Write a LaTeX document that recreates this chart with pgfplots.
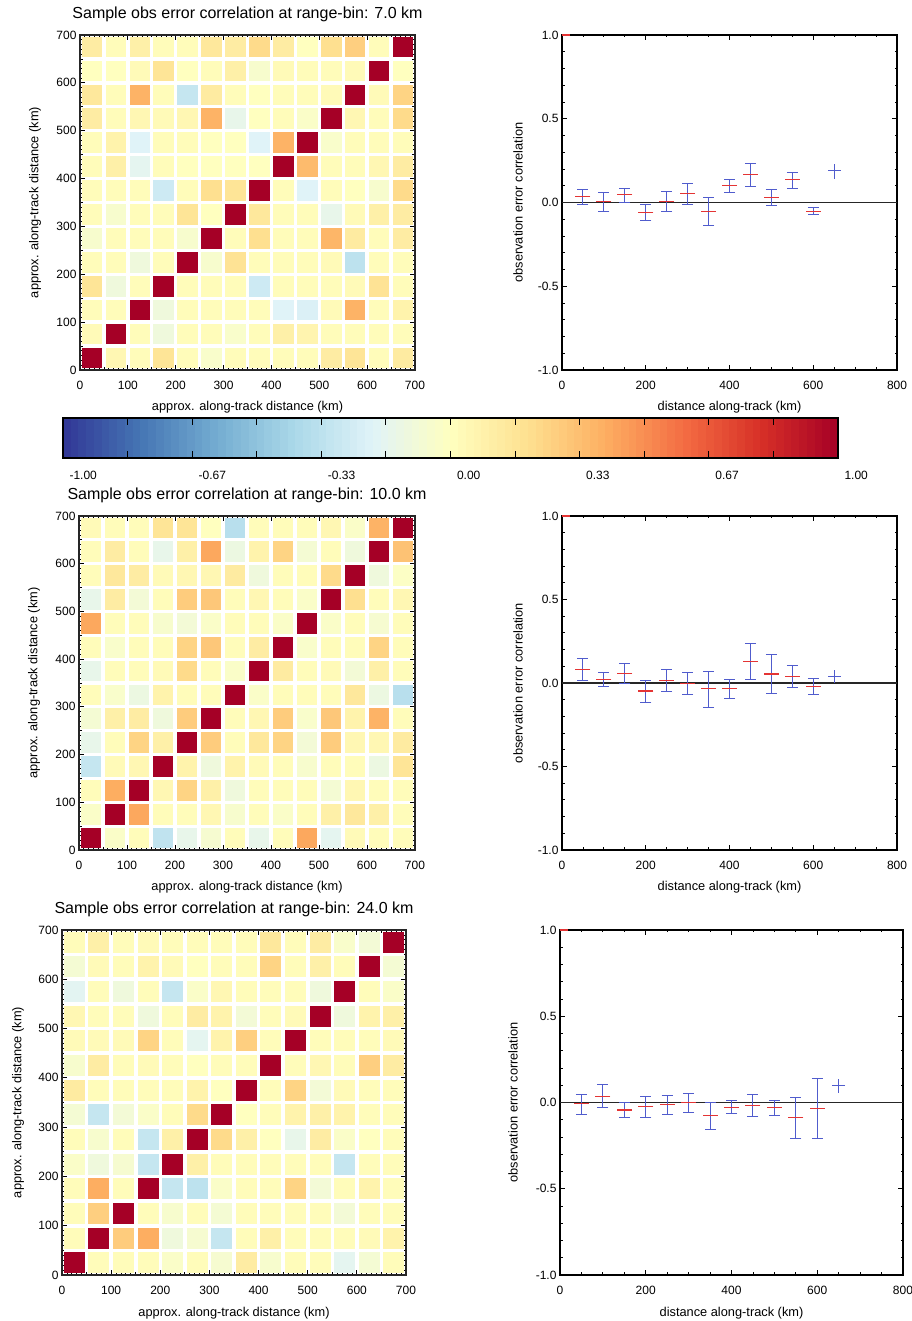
\documentclass[border=0pt]{standalone}
\usepackage{pgfplots}
\pgfplotsset{compat=1.18}
\usepackage{fontspec}
\setmainfont{Liberation Sans}
\definecolor{cblue}{RGB}{80,92,205}
\definecolor{cred}{RGB}{228,52,52}
\pgfplotsset{
  colormap={rdylbu}{rgb255=(49,54,149) rgb255=(69,117,180) rgb255=(116,173,209) rgb255=(171,217,233) rgb255=(224,243,248) rgb255=(255,255,191) rgb255=(254,224,144) rgb255=(253,174,97) rgb255=(244,109,67) rgb255=(215,48,39) rgb255=(165,0,38)},
  every axis/.append style={
    /pgf/number format/assume math mode=true,
    tick label style={font=\fontsize{12}{12}\selectfont},
    label style={font=\fontsize{12.8}{13}\selectfont},
    title style={font=\fontsize{16}{16}\selectfont},
  },
  base/.style={scale only axis, anchor=south west, tick align=inside,
    major tick length=5pt, minor tick length=2.5pt,
    every tick/.style={black, line width=0.8pt},
    xticklabel style={yshift=-8pt},
    xlabel style={at={(axis description cs:0.5,0)}, anchor=base, yshift=-41pt},
    title style={at={(axis description cs:0.5,1)}, anchor=base, yshift=10.5pt},
  },
  mat/.style={base, xmin=0, xmax=700, ymin=0, ymax=700,
    xtick={0,100,...,700}, ytick={0,100,...,700}, minor tick num=9,
    axis line style={black!85, line width=1.6pt},
    point meta min=-1, point meta max=1, colormap name=rdylbu,
    xlabel={approx. along-track distance (km)},
    ylabel={approx. along-track distance (km)}},
  cor/.style={base, xmin=0, xmax=800, ymin=-1, ymax=1,
    xtick={0,200,...,800}, minor x tick num=3,
    ytick={-1,-0.5,0,0.5,1}, minor y tick num=4,
    yticklabel style={/pgf/number format/.cd, fixed, fixed zerofill, precision=1},
    axis line style={black, line width=1.2pt},
    xlabel={distance along-track (km)},
    ylabel={observation error correlation}},
  sq/.style={scatter, only marks, mark=square*, point meta=explicit,
    scatter/use mapped color={draw=mapped color, fill=mapped color},
    mark options={line width=0pt}},
  eb/.style={only marks, mark=-, mark options={cred, line width=1.2pt, mark size=7.5pt},
    error bars/.cd, y dir=both, y explicit,
    error bar style={cblue, line width=1pt},
    error mark options={cblue, line width=1pt, mark size=5.5pt, rotate=90}},
  ebl/.style={only marks, mark=-, mark options={cblue, line width=1.2pt, mark size=6.5pt},
    error bars/.cd, y dir=both, y explicit, error mark=none,
    error bar style={cblue, line width=1pt}},
}
\begin{document}
\begin{tikzpicture}
\useasboundingbox (0pt,0pt) rectangle (911pt,1321pt);

% ---------------- Row 1 ----------------
\begin{axis}[mat, at={(80pt,951pt)}, width=335pt, height=335pt,
  title={Sample obs error correlation at range-bin: 7.0 km},
  ylabel style={at={(axis description cs:-0.134,0.5)}, anchor=center}]
\addplot[sq, mark size=9.8pt] table[row sep=\\, meta=c]{
x y c\\
25 25 1\\ 75 25 0.05\\ 125 25 0.02\\ 175 25 0.17\\ 225 25 0.02\\ 275 25 -0.04\\ 325 25 0.02\\ 375 25 0.02\\ 425 25 0.02\\ 475 25 0.02\\ 525 25 0.12\\ 575 25 0.17\\ 625 25 0.02\\ 675 25 0.13\\
25 75 0.03\\ 75 75 1\\ 125 75 0.02\\ 175 75 -0.1\\ 225 75 0.02\\ 275 75 0.02\\ 325 75 -0.04\\ 375 75 0.02\\ 425 75 0.1\\ 475 75 0.07\\ 525 75 0.02\\ 575 75 0.02\\ 625 75 0.02\\ 675 75 0.02\\
25 125 0.02\\ 75 125 0.02\\ 125 125 1\\ 175 125 -0.1\\ 225 125 0.02\\ 275 125 0.02\\ 325 125 0.02\\ 375 125 0.02\\ 425 125 -0.2\\ 475 125 -0.22\\ 525 125 0.03\\ 575 125 0.38\\ 625 125 0.02\\ 675 125 0.08\\
25 175 0.17\\ 75 175 -0.1\\ 125 175 0.02\\ 175 175 1\\ 225 175 0.02\\ 275 175 0.02\\ 325 175 0.02\\ 375 175 -0.27\\ 425 175 0.02\\ 475 175 0.02\\ 525 175 0.02\\ 575 175 0.03\\ 625 175 0.18\\ 675 175 0.02\\
25 225 0.02\\ 75 225 0.02\\ 125 225 -0.1\\ 175 225 0.02\\ 225 225 1\\ 275 225 -0.05\\ 325 225 0.18\\ 375 225 0.02\\ 425 225 0.02\\ 475 225 0.02\\ 525 225 0.03\\ 575 225 -0.33\\ 625 225 0.02\\ 675 225 0.02\\
25 275 -0.05\\ 75 275 0.02\\ 125 275 0.02\\ 175 275 0.02\\ 225 275 -0.05\\ 275 275 1\\ 325 275 0.02\\ 375 275 0.2\\ 425 275 0.02\\ 475 275 0.02\\ 525 275 0.37\\ 575 275 0.13\\ 625 275 0.02\\ 675 275 0.12\\
25 325 0.02\\ 75 325 -0.05\\ 125 325 0.02\\ 175 325 0.02\\ 225 325 0.17\\ 275 325 0\\ 325 325 1\\ 375 325 0.15\\ 425 325 0.02\\ 475 325 0.02\\ 525 325 -0.15\\ 575 325 0.03\\ 625 325 0.1\\ 675 325 0.12\\
25 375 0.02\\ 75 375 0.02\\ 125 375 0.02\\ 175 375 -0.27\\ 225 375 0.02\\ 275 375 0.2\\ 325 375 0.17\\ 375 375 1\\ 425 375 0.02\\ 475 375 -0.2\\ 525 375 0.02\\ 575 375 0\\ 625 375 -0.05\\ 675 375 0.22\\
25 425 0.02\\ 75 425 0.1\\ 125 425 -0.17\\ 175 425 0.02\\ 225 425 0\\ 275 425 0\\ 325 425 0\\ 375 425 0\\ 425 425 1\\ 475 425 0.35\\ 525 425 0.02\\ 575 425 0.02\\ 625 425 0.05\\ 675 425 0.12\\
25 475 0.02\\ 75 475 0.08\\ 125 475 -0.2\\ 175 475 0.02\\ 225 475 0.02\\ 275 475 0\\ 325 475 0\\ 375 475 -0.2\\ 425 475 0.38\\ 475 475 1\\ 525 475 -0.04\\ 575 475 0.02\\ 625 475 0.02\\ 675 475 0.02\\
25 525 0.12\\ 75 525 0.02\\ 125 525 0.05\\ 175 525 0.03\\ 225 525 0.05\\ 275 525 0.38\\ 325 525 -0.15\\ 375 525 0\\ 425 525 0.02\\ 475 525 -0.03\\ 525 525 1\\ 575 525 0.05\\ 625 525 0.02\\ 675 525 0.22\\
25 575 0.15\\ 75 575 0.02\\ 125 575 0.38\\ 175 575 0.02\\ 225 575 -0.3\\ 275 575 0.13\\ 325 575 0.02\\ 375 575 0\\ 425 575 0.02\\ 475 575 0.02\\ 525 575 0.03\\ 575 575 1\\ 625 575 0.03\\ 675 575 0.25\\
25 625 0\\ 75 625 0\\ 125 625 0.03\\ 175 625 0.17\\ 225 625 0\\ 275 625 0.02\\ 325 625 0.1\\ 375 625 -0.05\\ 425 625 0.03\\ 475 625 0.02\\ 525 625 0.02\\ 575 625 0.03\\ 625 625 1\\ 675 625 0\\
25 675 0.12\\ 75 675 0.02\\ 125 675 0.1\\ 175 675 0.02\\ 225 675 0.02\\ 275 675 0.15\\ 325 675 0.12\\ 375 675 0.22\\ 425 675 0.12\\ 475 675 0\\ 525 675 0.2\\ 575 675 0.27\\ 625 675 0.02\\ 675 675 1\\
};
\end{axis}

% ---------------- colour bar ----------------
\begin{axis}[scale only axis, anchor=south west, at={(63pt,863pt)},
  width=775pt, height=40pt, xmin=-1, xmax=1, ymin=0, ymax=1,
  axis on top, colormap name=rdylbu, point meta min=-1, point meta max=1,
  xtick={-1,-0.83333,-0.66667,-0.5,-0.33333,-0.16667,0,0.16667,0.33333,0.5,0.66667,0.83333,1},
  xticklabels={-1.00,,-0.67,,-0.33,,0.00,,0.33,,0.67,,1.00},
  xticklabel style={anchor=north west, xshift=3pt, yshift=-10pt},
  ytick=\empty, tick align=inside, major tick length=7pt,
  xtick pos=both, xticklabel pos=lower,
  every tick/.style={black, line width=1pt},
  axis line style={black, line width=1.5pt}]
\addplot[matrix plot*, mesh/cols=100, point meta=x] coordinates {
(-0.99,0.25) (-0.97,0.25) (-0.95,0.25) (-0.93,0.25) (-0.91,0.25) (-0.89,0.25) (-0.87,0.25) (-0.85,0.25) (-0.83,0.25) (-0.81,0.25)
(-0.79,0.25) (-0.77,0.25) (-0.75,0.25) (-0.73,0.25) (-0.71,0.25) (-0.69,0.25) (-0.67,0.25) (-0.65,0.25) (-0.63,0.25) (-0.61,0.25)
(-0.59,0.25) (-0.57,0.25) (-0.55,0.25) (-0.53,0.25) (-0.51,0.25) (-0.49,0.25) (-0.47,0.25) (-0.45,0.25) (-0.43,0.25) (-0.41,0.25)
(-0.39,0.25) (-0.37,0.25) (-0.35,0.25) (-0.33,0.25) (-0.31,0.25) (-0.29,0.25) (-0.27,0.25) (-0.25,0.25) (-0.23,0.25) (-0.21,0.25)
(-0.19,0.25) (-0.17,0.25) (-0.15,0.25) (-0.13,0.25) (-0.11,0.25) (-0.09,0.25) (-0.07,0.25) (-0.05,0.25) (-0.03,0.25) (-0.01,0.25)
(0.01,0.25) (0.03,0.25) (0.05,0.25) (0.07,0.25) (0.09,0.25) (0.11,0.25) (0.13,0.25) (0.15,0.25) (0.17,0.25) (0.19,0.25)
(0.21,0.25) (0.23,0.25) (0.25,0.25) (0.27,0.25) (0.29,0.25) (0.31,0.25) (0.33,0.25) (0.35,0.25) (0.37,0.25) (0.39,0.25)
(0.41,0.25) (0.43,0.25) (0.45,0.25) (0.47,0.25) (0.49,0.25) (0.51,0.25) (0.53,0.25) (0.55,0.25) (0.57,0.25) (0.59,0.25)
(0.61,0.25) (0.63,0.25) (0.65,0.25) (0.67,0.25) (0.69,0.25) (0.71,0.25) (0.73,0.25) (0.75,0.25) (0.77,0.25) (0.79,0.25)
(0.81,0.25) (0.83,0.25) (0.85,0.25) (0.87,0.25) (0.89,0.25) (0.91,0.25) (0.93,0.25) (0.95,0.25) (0.97,0.25) (0.99,0.25)

(-0.99,0.75) (-0.97,0.75) (-0.95,0.75) (-0.93,0.75) (-0.91,0.75) (-0.89,0.75) (-0.87,0.75) (-0.85,0.75) (-0.83,0.75) (-0.81,0.75)
(-0.79,0.75) (-0.77,0.75) (-0.75,0.75) (-0.73,0.75) (-0.71,0.75) (-0.69,0.75) (-0.67,0.75) (-0.65,0.75) (-0.63,0.75) (-0.61,0.75)
(-0.59,0.75) (-0.57,0.75) (-0.55,0.75) (-0.53,0.75) (-0.51,0.75) (-0.49,0.75) (-0.47,0.75) (-0.45,0.75) (-0.43,0.75) (-0.41,0.75)
(-0.39,0.75) (-0.37,0.75) (-0.35,0.75) (-0.33,0.75) (-0.31,0.75) (-0.29,0.75) (-0.27,0.75) (-0.25,0.75) (-0.23,0.75) (-0.21,0.75)
(-0.19,0.75) (-0.17,0.75) (-0.15,0.75) (-0.13,0.75) (-0.11,0.75) (-0.09,0.75) (-0.07,0.75) (-0.05,0.75) (-0.03,0.75) (-0.01,0.75)
(0.01,0.75) (0.03,0.75) (0.05,0.75) (0.07,0.75) (0.09,0.75) (0.11,0.75) (0.13,0.75) (0.15,0.75) (0.17,0.75) (0.19,0.75)
(0.21,0.75) (0.23,0.75) (0.25,0.75) (0.27,0.75) (0.29,0.75) (0.31,0.75) (0.33,0.75) (0.35,0.75) (0.37,0.75) (0.39,0.75)
(0.41,0.75) (0.43,0.75) (0.45,0.75) (0.47,0.75) (0.49,0.75) (0.51,0.75) (0.53,0.75) (0.55,0.75) (0.57,0.75) (0.59,0.75)
(0.61,0.75) (0.63,0.75) (0.65,0.75) (0.67,0.75) (0.69,0.75) (0.71,0.75) (0.73,0.75) (0.75,0.75) (0.77,0.75) (0.79,0.75)
(0.81,0.75) (0.83,0.75) (0.85,0.75) (0.87,0.75) (0.89,0.75) (0.91,0.75) (0.93,0.75) (0.95,0.75) (0.97,0.75) (0.99,0.75)
};
\end{axis}

\begin{axis}[cor, at={(562pt,951pt)}, width=335pt, height=335pt,
  ylabel style={at={(axis description cs:-0.131,0.5)}, anchor=center}]
\addplot[black!85, line width=1.2pt] coordinates {(0,0) (800,0)};
\addplot[cred, line width=1.2pt] coordinates {(0,1) (18,1)};
\addplot[eb] table[x=x, y=y, y error plus=ep, y error minus=em]{
x y ep em
50 0.036 0.040 0.046
100 0.004 0.058 0.060
150 0.046 0.038 0.046
200 -0.060 0.050 0.047
250 0.004 0.062 0.056
300 0.054 0.059 0.068
350 -0.054 0.082 0.083
400 0.100 0.035 0.040
450 0.165 0.068 0.069
500 0.030 0.046 0.050
550 0.135 0.044 0.049
600 -0.054 0.024 0.016
};
\addplot[ebl] table[x=x, y=y, y error plus=ep, y error minus=em]{
x y ep em
650 0.190 0.040 0.050
};
\end{axis}

% ---------------- Row 2 ----------------
\begin{axis}[mat, at={(79pt,471pt)}, width=336pt, height=334pt,
  title={Sample obs error correlation at range-bin: 10.0 km},
  ylabel style={at={(axis description cs:-0.134,0.5)}, anchor=center}]
\addplot[sq, mark size=9.8pt] table[row sep=\\, meta=c]{
x y c\\
25 25 1\\ 75 25 -0.03\\ 125 25 0.02\\ 175 25 -0.32\\ 225 25 -0.15\\ 275 25 -0.06\\ 325 25 0.02\\ 375 25 -0.15\\ 425 25 0.02\\ 475 25 0.42\\ 525 25 -0.17\\ 575 25 0.03\\ 625 25 0.02\\ 675 25 0.02\\
25 75 -0.03\\ 75 75 1\\ 125 75 0.42\\ 175 75 0.02\\ 225 75 0.02\\ 275 75 0.05\\ 325 75 -0.05\\ 375 75 0.02\\ 425 75 -0.03\\ 475 75 0.02\\ 525 75 0.1\\ 575 75 0.15\\ 625 75 0.1\\ 675 75 0.02\\
25 125 0.02\\ 75 125 0.4\\ 125 125 1\\ 175 125 0.05\\ 225 125 0.25\\ 275 125 0.1\\ 325 125 -0.1\\ 375 125 0.02\\ 425 125 0.02\\ 475 125 0.02\\ 525 125 -0.07\\ 575 125 0.05\\ 625 125 0.02\\ 675 125 0.02\\
25 175 -0.3\\ 75 175 0.03\\ 125 175 0.05\\ 175 175 1\\ 225 175 0.08\\ 275 175 -0.1\\ 325 175 0.08\\ 375 175 0.03\\ 425 175 0.02\\ 475 175 -0.05\\ 525 175 0.02\\ 575 175 0.02\\ 625 175 -0.12\\ 675 175 0.17\\
25 225 -0.15\\ 75 225 0.02\\ 125 225 0.25\\ 175 225 0.1\\ 225 225 1\\ 275 225 0.28\\ 325 225 0.02\\ 375 225 0.15\\ 425 225 0.25\\ 475 225 -0.08\\ 525 225 0.28\\ 575 225 0.05\\ 625 225 0.05\\ 675 225 0.13\\
25 275 -0.07\\ 75 275 0.1\\ 125 275 0.12\\ 175 275 -0.1\\ 225 275 0.28\\ 275 275 1\\ 325 275 0.02\\ 375 275 0.05\\ 425 275 0.28\\ 475 275 -0.04\\ 525 275 0.3\\ 575 275 0.08\\ 625 275 0.38\\ 675 275 0.02\\
25 325 0.02\\ 75 325 -0.04\\ 125 325 -0.12\\ 175 325 0.08\\ 225 325 0.02\\ 275 325 0.02\\ 325 325 1\\ 375 325 -0.03\\ 425 325 0.02\\ 475 325 0.02\\ 525 325 0.02\\ 575 325 0.15\\ 625 325 -0.12\\ 675 325 -0.35\\
25 375 -0.15\\ 75 375 0.02\\ 125 375 0.02\\ 175 375 0.03\\ 225 375 0.22\\ 275 375 0.02\\ 325 375 -0.03\\ 375 375 1\\ 425 375 0.13\\ 475 375 0.02\\ 525 375 0.03\\ 575 375 -0.08\\ 625 375 0.1\\ 675 375 0.02\\
25 425 0.02\\ 75 425 -0.04\\ 125 425 0.02\\ 175 425 0.02\\ 225 425 0.25\\ 275 425 0.3\\ 325 425 0.02\\ 375 425 0.12\\ 425 425 1\\ 475 425 -0.04\\ 525 425 0.02\\ 575 425 0.02\\ 625 425 0.25\\ 675 425 0.02\\
25 475 0.42\\ 75 475 0.02\\ 125 475 0.02\\ 175 475 -0.05\\ 225 475 -0.08\\ 275 475 -0.03\\ 325 475 0.02\\ 375 475 0.02\\ 425 475 -0.03\\ 475 475 1\\ 525 475 -0.03\\ 575 475 0.02\\ 625 475 -0.06\\ 675 475 0.02\\
25 525 -0.15\\ 75 525 0.12\\ 125 525 -0.08\\ 175 525 0.02\\ 225 525 0.28\\ 275 525 0.3\\ 325 525 0.02\\ 375 525 0.05\\ 425 525 0.02\\ 475 525 -0.03\\ 525 525 1\\ 575 525 0.2\\ 625 525 0.02\\ 675 525 0.05\\
25 575 0.02\\ 75 575 0.15\\ 125 575 0.12\\ 175 575 0.03\\ 225 575 0.05\\ 275 575 0.05\\ 325 575 0.13\\ 375 575 -0.1\\ 425 575 0.02\\ 475 575 0.02\\ 525 575 0.22\\ 575 575 1\\ 625 575 -0.1\\ 675 575 -0.02\\
25 625 0.02\\ 75 625 0.12\\ 125 625 0.02\\ 175 625 -0.15\\ 225 625 0.1\\ 275 625 0.42\\ 325 625 -0.12\\ 375 625 0.08\\ 425 625 0.25\\ 475 625 -0.07\\ 525 625 0.02\\ 575 625 -0.1\\ 625 625 1\\ 675 625 0.32\\
25 675 0.03\\ 75 675 0.02\\ 125 675 0.02\\ 175 675 0.17\\ 225 675 0.17\\ 275 675 0\\ 325 675 -0.35\\ 375 675 0.02\\ 425 675 0.02\\ 475 675 0.02\\ 525 675 0.05\\ 575 675 -0.03\\ 625 675 0.38\\ 675 675 1\\
};
\end{axis}

\begin{axis}[cor, at={(562pt,471pt)}, width=335pt, height=334pt,
  ylabel style={at={(axis description cs:-0.131,0.5)}, anchor=center}]
\addplot[black!85, line width=1.2pt] coordinates {(0,0) (800,0)};
\addplot[cred, line width=1.2pt] coordinates {(0,1) (18,1)};
\addplot[eb] table[x=x, y=y, y error plus=ep, y error minus=em]{
x y ep em
50 0.082 0.064 0.066
100 0.020 0.042 0.040
150 0.056 0.062 0.060
200 -0.048 0.064 0.066
250 0.014 0.066 0.066
300 -0.002 0.066 0.066
350 -0.034 0.102 0.112
400 -0.032 0.054 0.058
450 0.128 0.108 0.108
500 0.054 0.116 0.114
550 0.040 0.066 0.068
600 -0.022 0.048 0.048
};
\addplot[ebl] table[x=x, y=y, y error plus=ep, y error minus=em]{
x y ep em
650 0.040 0.040 0.040
};
\end{axis}

% ---------------- Row 3 ----------------
\begin{axis}[mat, at={(62pt,46pt)}, width=344pt, height=345pt,
  title={Sample obs error correlation at range-bin: 24.0 km},
  ylabel style={at={(axis description cs:-0.128,0.5)}, anchor=center}]
\addplot[sq, mark size=10pt] table[row sep=\\, meta=c]{
x y c\\
25 25 1\\ 75 25 0.02\\ 125 25 0.02\\ 175 25 0.02\\ 225 25 -0.03\\ 275 25 0.02\\ 325 25 -0.06\\ 375 25 0.12\\ 425 25 -0.05\\ 475 25 0.02\\ 525 25 0.02\\ 575 25 -0.17\\ 625 25 -0.07\\ 675 25 0.02\\
25 75 0.02\\ 75 75 1\\ 125 75 0.28\\ 175 75 0.4\\ 225 75 -0.1\\ 275 75 -0.06\\ 325 75 -0.3\\ 375 75 0.02\\ 425 75 0.1\\ 475 75 0.02\\ 525 75 0.02\\ 575 75 0.02\\ 625 75 0.03\\ 675 75 0.08\\
25 125 0.02\\ 75 125 0.27\\ 125 125 1\\ 175 125 0.02\\ 225 125 -0.05\\ 275 125 0.02\\ 325 125 -0.07\\ 375 125 0.02\\ 425 125 0.02\\ 475 125 0.02\\ 525 125 0.02\\ 575 125 -0.08\\ 625 125 0.02\\ 675 125 0.02\\
25 175 0.02\\ 75 175 0.4\\ 125 175 0.02\\ 175 175 1\\ 225 175 -0.3\\ 275 175 -0.33\\ 325 175 -0.03\\ 375 175 0.02\\ 425 175 0.02\\ 475 175 0.25\\ 525 175 -0.08\\ 575 175 0.02\\ 625 175 0.08\\ 675 175 0.02\\
25 225 -0.03\\ 75 225 -0.1\\ 125 225 -0.06\\ 175 225 -0.3\\ 225 225 1\\ 275 225 0.1\\ 325 225 0.02\\ 375 225 0.02\\ 425 225 0.02\\ 475 225 0.02\\ 525 225 0.02\\ 575 225 -0.3\\ 625 225 0.02\\ 675 225 0.02\\
25 275 0.02\\ 75 275 -0.05\\ 125 275 0.02\\ 175 275 -0.3\\ 225 275 0.1\\ 275 275 1\\ 325 275 0.22\\ 375 275 0.1\\ 425 275 0\\ 475 275 -0.15\\ 525 275 0.12\\ 575 275 -0.03\\ 625 275 0\\ 675 275 0.02\\
25 325 -0.07\\ 75 325 -0.3\\ 125 325 -0.08\\ 175 325 -0.03\\ 225 325 0.02\\ 275 325 0.22\\ 325 325 1\\ 375 325 0\\ 425 325 0.02\\ 475 325 0.08\\ 525 325 0.1\\ 575 325 0.08\\ 625 325 0.02\\ 675 325 0.02\\
25 375 0.13\\ 75 375 0.02\\ 125 375 0.02\\ 175 375 0.02\\ 225 375 0.02\\ 275 375 0.08\\ 325 375 0\\ 375 375 1\\ 425 375 0.02\\ 475 375 0.25\\ 525 375 -0.08\\ 575 375 0.03\\ 625 375 0.02\\ 675 375 0.02\\
25 425 -0.05\\ 75 425 0.12\\ 125 425 0.02\\ 175 425 0.03\\ 225 425 0.02\\ 275 425 0\\ 325 425 0.02\\ 375 425 0.02\\ 425 425 1\\ 475 425 0.02\\ 525 425 0.05\\ 575 425 0.02\\ 625 425 0.27\\ 675 425 0.12\\
25 475 0.03\\ 75 475 0.03\\ 125 475 0.03\\ 175 475 0.25\\ 225 475 0.02\\ 275 475 -0.17\\ 325 475 0.08\\ 375 475 0.27\\ 425 475 0.02\\ 475 475 1\\ 525 475 0.02\\ 575 475 0.02\\ 625 475 0.02\\ 675 475 0.03\\
25 525 0.05\\ 75 525 0.02\\ 125 525 0.02\\ 175 525 -0.1\\ 225 525 0.02\\ 275 525 0.12\\ 325 525 0.08\\ 375 525 -0.08\\ 425 525 0.02\\ 475 525 0.03\\ 525 525 1\\ 575 525 -0.1\\ 625 525 0.08\\ 675 525 0.1\\
25 575 -0.18\\ 75 575 0.02\\ 125 575 -0.1\\ 175 575 0.02\\ 225 575 -0.3\\ 275 575 -0.03\\ 325 575 0.05\\ 375 575 0.02\\ 425 575 0.02\\ 475 575 0.02\\ 525 575 -0.1\\ 575 575 1\\ 625 575 0.02\\ 675 575 -0.03\\
25 625 -0.07\\ 75 625 0.03\\ 125 625 0.02\\ 175 625 0.08\\ 225 625 0.03\\ 275 625 0\\ 325 625 0.02\\ 375 625 0.02\\ 425 625 0.25\\ 475 625 0.02\\ 525 625 0.1\\ 575 625 0.02\\ 625 625 1\\ 675 625 -0.07\\
25 675 0.02\\ 75 675 0.1\\ 125 675 0.02\\ 175 675 0.03\\ 225 675 0.02\\ 275 675 0.02\\ 325 675 0.02\\ 375 675 0.02\\ 425 675 0.15\\ 475 675 0.02\\ 525 675 0.12\\ 575 675 -0.04\\ 625 675 -0.08\\ 675 675 1\\
};
\end{axis}

\begin{axis}[cor, at={(560pt,46pt)}, width=343pt, height=345pt,
  ylabel style={at={(axis description cs:-0.137,0.5)}, anchor=center}]
\addplot[black!85, line width=1.2pt] coordinates {(0,0) (800,0)};
\addplot[cred, line width=1.2pt] coordinates {(0,1) (18,1)};
\addplot[eb] table[x=x, y=y, y error plus=ep, y error minus=em]{
x y ep em
50 -0.008 0.052 0.062
100 0.035 0.067 0.066
150 -0.043 0.043 0.046
200 -0.023 0.058 0.064
250 -0.012 0.055 0.059
300 -0.002 0.054 0.056
350 -0.077 0.077 0.078
400 -0.027 0.037 0.035
450 -0.017 0.063 0.066
500 -0.031 0.045 0.042
550 -0.089 0.118 0.121
600 -0.033 0.172 0.174
};
\addplot[ebl] table[x=x, y=y, y error plus=ep, y error minus=em]{
x y ep em
650 0.100 0.037 0.046
};
\end{axis}
\end{tikzpicture}
\end{document}
